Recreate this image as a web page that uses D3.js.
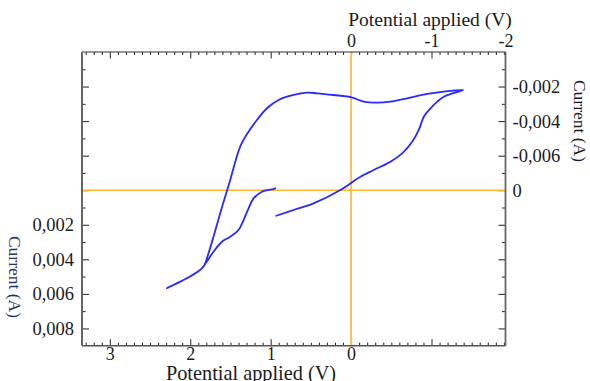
<!DOCTYPE html>
<html><head><meta charset="utf-8">
<script src="https://cdn.jsdelivr.net/npm/d3@7"></script>
<style>
html,body{margin:0;padding:0;background:#fff;}
svg{display:block;}
text{font-family:"Liberation Serif","Times New Roman",serif;}
</style></head>
<body>
<svg id="chart" width="590" height="381"></svg>
<script>
// Cyclic voltammogram: potential (V) and current (A), one continuous trace
const potential = [0.930,0.699,0.466,0.133,-0.004,-0.116,-0.281,-0.489,-0.635,-0.760,-0.842,-0.904,-0.988,-1.071,-1.153,-1.395,
  -1.153,-0.946,-0.697,-0.489,-0.324,-0.157,-0.004,0.217,0.423,0.548,0.715,0.902,1.046,1.171,1.275,1.379,1.503,1.553,1.628,1.711,1.773,1.823,1.856,1.939,2.022,2.147,2.271,2.291,
  2.151,2.001,1.856,1.790,1.711,1.606,1.503,1.400,1.337,1.275,1.213,1.108,0.964,0.943];
const current = [0.001477,0.001117,0.000759,-0.000012,-0.000434,-0.000782,-0.001170,-0.001650,-0.002137,-0.002808,-0.003486,-0.004256,-0.004742,-0.005125,-0.005414,-0.005802,
  -0.005703,-0.005570,-0.005321,-0.005125,-0.005067,-0.005125,-0.005379,-0.005512,-0.005611,-0.005646,-0.005512,-0.005223,-0.004742,-0.004065,-0.003387,-0.002519,-0.000591,0.000180,0.001338,0.002693,0.003654,0.004331,0.004522,0.004812,0.005043,0.005356,0.005622,0.005680,
  0.005344,0.004997,0.004522,0.004100,0.003561,0.002982,0.002693,0.002305,0.001726,0.001048,0.000469,0.000087,-0.000069,-0.000110];

const bottomTicks = [3,2,1,0];
const bottomTickLabels = ["3","2","1","0"];
const topTicks = [0,-1,-2];
const topTickLabels = ["0","-1","-2"];
const leftTicks = [0.002,0.004,0.006,0.008];
const leftTickLabels = ["0,002","0,004","0,006","0,008"];
const rightTicks = [-0.006,-0.004,-0.002,0];
const rightTickLabels = ["-0,002","-0,004","-0,006","0"];
const xTitle = "Potential applied (V)";
const yTitle = "Current (A)";

const L = 82, R = 505.5, T = 52, B = 345.7;
const svg = d3.select("#chart");

const x = d3.scaleLinear().domain([3.346, -1.92]).range([L, R]);
const xc = x.copy().clamp(true);
const y = d3.scaleLinear().domain([-0.008, 0.009]).range([T, B]);

const xMinor = d3.range(-19, 34).map(d => d / 10).filter(d => Math.abs(d - Math.round(d)) > 1e-9);
const xMajor = [-1, 0, 1, 2, 3];
const yMinor = [-0.007,-0.005,-0.003,-0.001,0.001,0.003,0.005,0.007];
const yMajor = [-0.006,-0.004,-0.002,0,0.002,0.004,0.006,0.008];

function tickAxis(axis, vals, size, tx, ty) {
  const g = svg.append("g").attr("transform", `translate(${tx},${ty})`)
    .call(axis.tickValues(vals).tickSize(size).tickSizeOuter(0).tickFormat(""));
  g.select(".domain").remove();
  g.selectAll("line").attr("stroke", "#222").attr("stroke-width", 1);
  return g;
}
// ticks pointing inward
tickAxis(d3.axisBottom(x), xMinor, 3, 0, T);
tickAxis(d3.axisBottom(x), xMajor, 6.5, 0, T);
tickAxis(d3.axisTop(x), xMinor, 3, 0, B);
tickAxis(d3.axisTop(x), xMajor, 6.5, 0, B);
tickAxis(d3.axisRight(y), yMinor, 3.5, L, 0);
tickAxis(d3.axisRight(y), yMajor, 7, L, 0);
tickAxis(d3.axisLeft(y), yMinor, 3.5, R, 0);
tickAxis(d3.axisLeft(y), yMajor, 7, R, 0);

// orange zero lines
svg.append("line").attr("x1", x(0)).attr("x2", x(0)).attr("y1", T).attr("y2", B)
  .attr("stroke", "#ffbf45").attr("stroke-width", 1.8);
svg.append("line").attr("x1", L).attr("x2", R).attr("y1", y(0)).attr("y2", y(0))
  .attr("stroke", "#ffb52e").attr("stroke-width", 1.4);

// frame
svg.append("line").attr("x1", L).attr("x2", R).attr("y1", T).attr("y2", T).attr("stroke", "#333").attr("stroke-width", 1.2);
svg.append("line").attr("x1", L).attr("x2", R).attr("y1", B).attr("y2", B).attr("stroke", "#555").attr("stroke-width", 1.6);
svg.append("line").attr("x1", L).attr("x2", L).attr("y1", T).attr("y2", B).attr("stroke", "#666").attr("stroke-width", 2);
svg.append("line").attr("x1", R).attr("x2", R).attr("y1", T).attr("y2", B).attr("stroke", "#666").attr("stroke-width", 1.8);

// curve
const pts = potential.map((v, i) => [v, current[i]]);
svg.append("path").datum(pts)
  .attr("d", d3.line().x(d => x(d[0])).y(d => y(d[1])).curve(d3.curveCatmullRom.alpha(0.5)))
  .attr("fill", "none").attr("stroke", "#2a2aff").attr("stroke-width", 1.8)
  .attr("stroke-linejoin", "round").attr("stroke-linecap", "round");

// tick labels
const txtColor = "#1b1b24";
function labelAxis(axis, vals, labels, tx, ty, pad, fs) {
  const g = svg.append("g").attr("transform", `translate(${tx},${ty})`)
    .call(axis.tickValues(vals).tickSize(0).tickPadding(pad).tickFormat((d, i) => labels[i]));
  g.select(".domain").remove();
  g.selectAll("text").attr("font-family", '"Liberation Serif","Times New Roman",serif')
    .attr("font-size", fs).attr("fill", txtColor);
  return g;
}
labelAxis(d3.axisBottom(x), bottomTicks, bottomTickLabels, 0, B, 2, 18);
labelAxis(d3.axisTop(xc), topTicks, topTickLabels, 0, T, 5, 18);
labelAxis(d3.axisLeft(y), leftTicks, leftTickLabels, L, 0, 8, 18.5);
labelAxis(d3.axisRight(y), rightTicks, rightTickLabels, R, 0, 7, 18.5);

// titles
svg.append("text").attr("x", 430).attr("y", 26).attr("text-anchor", "middle")
  .attr("font-size", 19.5).attr("fill", txtColor).text(xTitle);
svg.append("text").attr("x", 251).attr("y", 379.5).attr("text-anchor", "middle")
  .attr("font-size", 20.3).attr("fill", txtColor).text(xTitle);
svg.append("text").attr("transform", "translate(580,121) rotate(90)").attr("text-anchor", "middle")
  .attr("dy", "0.33em").attr("font-size", 17.5).attr("fill", txtColor).text(yTitle);
svg.append("text").attr("transform", "translate(15,277) rotate(90)").attr("text-anchor", "middle")
  .attr("dy", "0.33em").attr("font-size", 17.5).attr("fill", "#1f3468").text(yTitle);
</script>
</body></html>
